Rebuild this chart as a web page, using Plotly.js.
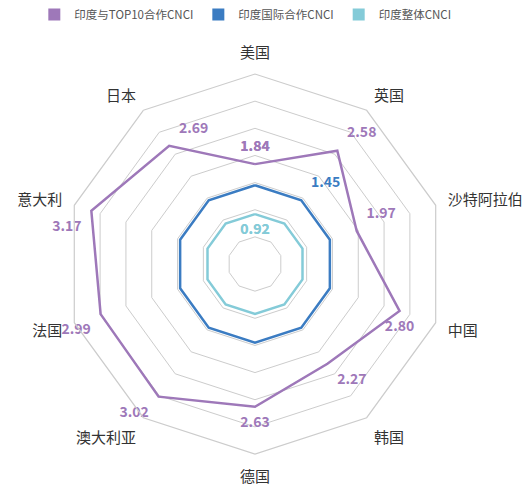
<!DOCTYPE html>
<html>
<head>
<meta charset="utf-8">
<script src="https://cdn.plot.ly/plotly-3.0.1.min.js"></script>
<style>
  html, body { margin: 0; padding: 0; background: #fff; }
  #chart { width: 528px; height: 495px; }
</style>
</head>
<body>
<div id="chart"></div>
<script>
// countries, clockwise from the top
var countries = ["美国", "英国", "沙特阿拉伯", "中国", "韩国", "德国", "澳大利亚", "法国", "意大利", "日本"]

// CNCI values
var top10Cnci = [1.84, 2.58, 1.97, 2.80, 2.27, 2.63, 3.02, 2.99, 3.17, 2.69]
var intlCnci = [1.45, 1.45, 1.45, 1.45, 1.45, 1.45, 1.45, 1.45, 1.45, 1.45]
var overallCnci = [0.92, 0.92, 0.92, 0.92, 0.92, 0.92, 0.92, 0.92, 0.92, 0.92]

var seriesNames = ["印度与TOP10合作CNCI", "印度国际合作CNCI", "印度整体CNCI"]
var colors = ["#9e78b9", "#3b7cc2", "#84cbd8"]

// close the polygon
function closed(arr) { return arr.concat([arr[0]]) }

var top10Text = top10Cnci.map(v => v.toFixed(2))
var top10Pos = ["top center", "top right", "top right", "bottom center", "bottom right",
                "bottom center", "bottom left", "bottom left", "bottom left", "top right"]

// only one label each for the two flat series
var intlText = intlCnci.map((v, i) => i == 1 ? v.toFixed(2) : "")
var overallText = overallCnci.map((v, i) => i == 0 ? v.toFixed(2) : "")

var font = "Noto Sans CJK SC, Noto Sans, sans-serif"
// invisible markers push the value labels away from the vertices
var hidden = { size: 14, color: "rgba(0,0,0,0)" }

var traces = [
    {
        type: "scatterpolar",
        r: closed(overallCnci),
        theta: closed(countries),
        mode: "lines+markers+text",
        marker: hidden,
        text: closed(overallText),
        textposition: "bottom center",
        textfont: { family: font, size: 14, color: colors[2], weight: "bold" },
        line: { color: colors[2], width: 2.5 },
        showlegend: false,
        hoverinfo: "skip"
    },
    {
        type: "scatterpolar",
        r: closed(intlCnci),
        theta: closed(countries),
        mode: "lines+markers+text",
        marker: hidden,
        text: closed(intlText),
        textposition: "top right",
        textfont: { family: font, size: 14, color: colors[1], weight: "bold" },
        line: { color: colors[1], width: 2.5 },
        showlegend: false,
        hoverinfo: "skip"
    },
    {
        type: "scatterpolar",
        r: closed(top10Cnci),
        theta: closed(countries),
        mode: "lines+markers+text",
        marker: hidden,
        text: closed(top10Text),
        textposition: closed(top10Pos),
        textfont: { family: font, size: 14, color: colors[0], weight: "bold" },
        line: { color: colors[0], width: 2.5 },
        showlegend: false,
        hoverinfo: "skip"
    }
]

// legend-only entries with square swatches
seriesNames.forEach(function (name, i) {
    traces.push({
        type: "scatterpolar",
        r: [null],
        theta: [countries[0]],
        mode: "markers",
        name: name,
        marker: { symbol: "square", size: 12, color: colors[i] },
        legendrank: i + 1
    })
})

var layout = {
    width: 528,
    height: 495,
    margin: { l: 0, r: 0, t: 0, b: 0 },
    paper_bgcolor: "#fff",
    font: { family: font, size: 15, color: "#333" },
    showlegend: true,
    legend: {
        orientation: "h",
        x: 0.065, y: 1, xanchor: "left", yanchor: "top",
        font: { family: font, size: 11.5, color: "#555" },
        itemwidth: 30,
        traceorder: "normal"
    },
    polar: {
        domain: { x: [0.1231, 0.8428], y: [0.0828, 0.8505] },
        gridshape: "linear",
        bgcolor: "#fff",
        radialaxis: {
            range: [0, 3.5],
            dtick: 0.5,
            showticklabels: false,
            ticks: "",
            showline: false,
            gridcolor: "#cccccc",
            gridwidth: 1.2
        },
        angularaxis: {
            rotation: 90,
            direction: "clockwise",
            showgrid: false,
            ticks: "outside",
            ticklen: 9,
            tickcolor: "rgba(0,0,0,0)",
            showline: true,
            linecolor: "#cccccc",
            linewidth: 1.2,
            tickfont: { family: font, size: 15, color: "#333" }
        }
    }
}

Plotly.newPlot("chart", traces, layout, { displayModeBar: false })
</script>
</body>
</html>
